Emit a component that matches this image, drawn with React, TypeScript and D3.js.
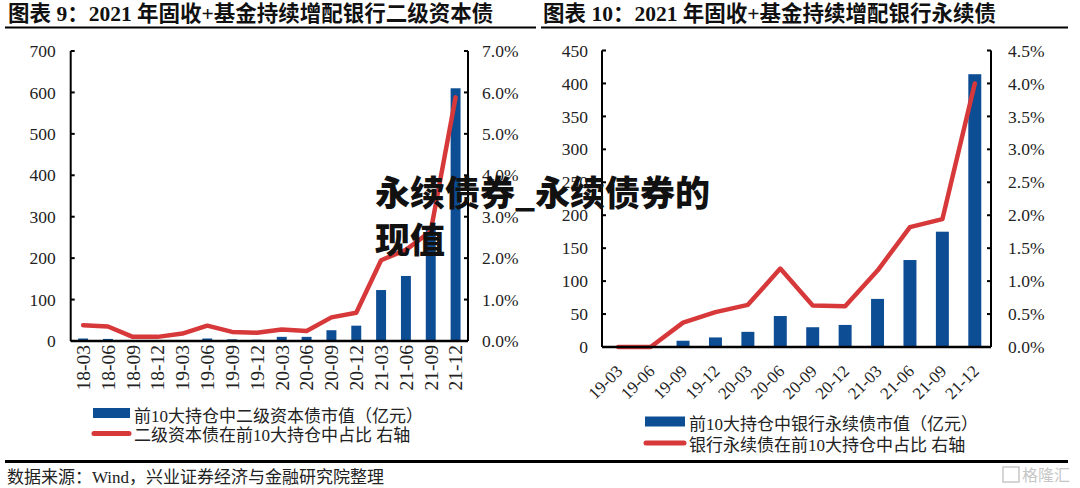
import React from 'react';
import * as d3 from 'd3';

// left panel: bank tier-2 capital bonds
const leftCats = ['18-03', '18-06', '18-09', '18-12', '19-03', '19-06', '19-09', '19-12', '20-03', '20-06', '20-09', '20-12', '21-03', '21-06', '21-09', '21-12'];
const leftBars = [6, 5, 0, 0, 1, 6, 4, 3, 10, 10, 26, 37, 123, 157, 275, 610];
const leftPct = [0.38, 0.35, 0.1, 0.1, 0.18, 0.37, 0.22, 0.2, 0.28, 0.24, 0.57, 0.68, 1.95, 2.2, 2.65, 5.88];

// right panel: bank perpetual bonds
const rightCats = ['19-03', '19-06', '19-09', '19-12', '20-03', '20-06', '20-09', '20-12', '21-03', '21-06', '21-09', '21-12'];
const rightBars = [0, 0, 9.5, 14.5, 23, 47, 30, 33.5, 73, 132, 175, 414];
const rightPct = [0, 0, 0.37, 0.53, 0.64, 1.19, 0.63, 0.62, 1.16, 1.82, 1.94, 4.0];

const leftTitle = '图表 9：2021 年固收+基金持续增配银行二级资本债';
const rightTitle = '图表 10：2021 年固收+基金持续增配银行永续债';
const leftLegend = ['前10大持仓中二级资本债市值（亿元）', '二级资本债在前10大持仓中占比 右轴'];
const rightLegend = ['前10大持仓中银行永续债市值（亿元）', '银行永续债在前10大持仓中占比 右轴'];
const source = '数据来源：Wind，兴业证券经济与金融研究院整理';
const overlay = ['永续债券_永续债券的', '现值'];

const BLUE = '#0c4d93';
const RED = '#d7393a';
const SERIF = '"Liberation Serif", "Noto Sans CJK SC", serif';

type ChartProps = {
  cats: string[];
  bars: number[];
  pct: number[];
  left: number;
  right: number;
  top: number;
  bottom: number;
  yMax: number;
  yStep: number;
  pMax: number;
  pStep: number;
  leftGap: number;
  rightGap: number;
  tilt: number;
  labelSize: number;
  labelY: number;
};

function DualChart(p: ChartProps) {
  const x = d3.scaleBand<string>().domain(p.cats).range([p.left, p.right]).paddingInner(0.6).paddingOuter(0.3);
  const y = d3.scaleLinear().domain([0, p.yMax]).range([p.bottom, p.top]);
  const yp = d3.scaleLinear().domain([0, p.pMax]).range([p.bottom, p.top]);
  const cx = (c: string) => (x(c) as number) + x.bandwidth() / 2;

  const yTicks = d3.range(0, p.yMax + p.yStep / 2, p.yStep);
  const pTicks = d3.range(0, p.pMax + p.pStep / 2, p.pStep);

  const path = d3.line<number>()
    .x((_, i) => cx(p.cats[i]))
    .y(d => yp(d))(p.pct) as string;

  return (
    <g>
      {p.bars.map((v, i) => (
        <rect key={p.cats[i]} x={x(p.cats[i])} y={y(v)} width={x.bandwidth()} height={p.bottom - y(v)} fill={BLUE} />
      ))}
      <path d={path} fill="none" stroke={RED} strokeWidth={4.5} strokeLinejoin="round" strokeLinecap="round" />

      <line x1={p.left} x2={p.left} y1={p.top} y2={p.bottom} stroke="#000" strokeWidth={2} />
      <line x1={p.right} x2={p.right} y1={p.top} y2={p.bottom} stroke="#000" strokeWidth={2} />
      <line x1={p.left} x2={p.right} y1={p.bottom} y2={p.bottom} stroke="#000" strokeWidth={2.5} />

      {yTicks.map(t => (
        <g key={'l' + t}>
          <line x1={p.left} x2={p.left + 4} y1={y(t)} y2={y(t)} stroke="#000" strokeWidth={2} />
          <text x={p.left - p.leftGap} y={y(t)} dy="0.35em" textAnchor="end" fontFamily={SERIF} fontSize={17.5} fill="#222">{t}</text>
        </g>
      ))}
      {pTicks.map(t => (
        <g key={'r' + t}>
          <line x1={p.right - 4} x2={p.right} y1={yp(t)} y2={yp(t)} stroke="#000" strokeWidth={2} />
          <text x={p.right + p.rightGap} y={yp(t)} dy="0.35em" textAnchor="start" fontFamily={SERIF} fontSize={17.5} fill="#222">{t.toFixed(1)}%</text>
        </g>
      ))}

      {p.cats.map(c => (
        <text
          key={'x' + c}
          transform={`translate(${cx(c) + (p.tilt === -90 ? 0 : 1)},${p.labelY}) rotate(${p.tilt})`}
          dy="0.35em"
          textAnchor="end"
          fontFamily={SERIF}
          fontSize={p.labelSize}
          fill="#222"
        >{c}</text>
      ))}
    </g>
  );
}

function Legend(props: { x: number; y1: number; y2: number; texts: string[]; w: number }) {
  const { x, y1, y2, texts, w } = props;
  const font = '"Liberation Serif", "Noto Sans CJK SC", sans-serif';
  return (
    <g>
      <rect x={x} y={y1 - 5} width={w} height={10} fill={BLUE} />
      <text x={x + w + 4} y={y1 + 3} dy="0.35em" fontFamily={font} fontSize={17} fill="#222">{texts[0]}</text>
      <line x1={x + 1} x2={x + w - 1} y1={y2} y2={y2} stroke={RED} strokeWidth={5} strokeLinecap="round" />
      <text x={x + w + 4} y={y2 + 2} dy="0.35em" fontFamily={font} fontSize={17} fill="#222">{texts[1]}</text>
    </g>
  );
}

export default function App() {
  const titleFont = '"Liberation Serif", "Noto Sans CJK SC", serif';
  return (
    <svg width={1080} height={488} style={{ position: 'absolute', left: 0, top: 0, background: '#fff' }}>
      <rect width={1080} height={488} fill="#fff" />

      <text x={8} y={21} fontFamily={titleFont} fontWeight={700} fontSize={21.5} fill="#111">{leftTitle}</text>
      <text x={543} y={21} fontFamily={titleFont} fontWeight={700} fontSize={21.5} fill="#111">{rightTitle}</text>
      <line x1={5} x2={536} y1={27.5} y2={27.5} stroke="#000" strokeWidth={2} />
      <line x1={541} x2={1068} y1={27.5} y2={27.5} stroke="#000" strokeWidth={2} />

      <DualChart
        cats={leftCats} bars={leftBars} pct={leftPct}
        left={70.7} right={468} top={51} bottom={341}
        yMax={700} yStep={100} pMax={7} pStep={1}
        leftGap={15} rightGap={14}
        tilt={-90} labelSize={19.5} labelY={345}
      />
      <DualChart
        cats={rightCats} bars={rightBars} pct={rightPct}
        left={602} right={991} top={50.5} bottom={347}
        yMax={450} yStep={50} pMax={4.5} pStep={0.5}
        leftGap={14} rightGap={17}
        tilt={-45} labelSize={17} labelY={368}
      />

      <Legend x={93} y1={413} y2={433.5} texts={leftLegend} w={37} />
      <Legend x={645} y1={421.5} y2={443} texts={rightLegend} w={40} />

      <line x1={5} x2={1068} y1={461.5} y2={461.5} stroke="#000" strokeWidth={3} />
      <text x={7} y={477} dy="0.35em" fontFamily='"Liberation Serif", "Noto Sans CJK SC", serif' fontSize={17} fill="#222">{source}</text>
      <g opacity={0.55}>
        <rect x={1003} y={467} width={16} height={15} fill="none" stroke="#999" strokeWidth={1.5} />
        <text x={1022} y={475} dy="0.35em" fontFamily='"Noto Sans CJK SC", sans-serif' fontSize={16} fill="#999">格隆汇</text>
      </g>

      <text x={375} y={206} fontFamily='"Noto Sans CJK SC", sans-serif' fontWeight={900} fontSize={35} fill="#111">{overlay[0]}</text>
      <text x={375} y={253} fontFamily='"Noto Sans CJK SC", sans-serif' fontWeight={900} fontSize={35} fill="#111">{overlay[1]}</text>
    </svg>
  );
}
